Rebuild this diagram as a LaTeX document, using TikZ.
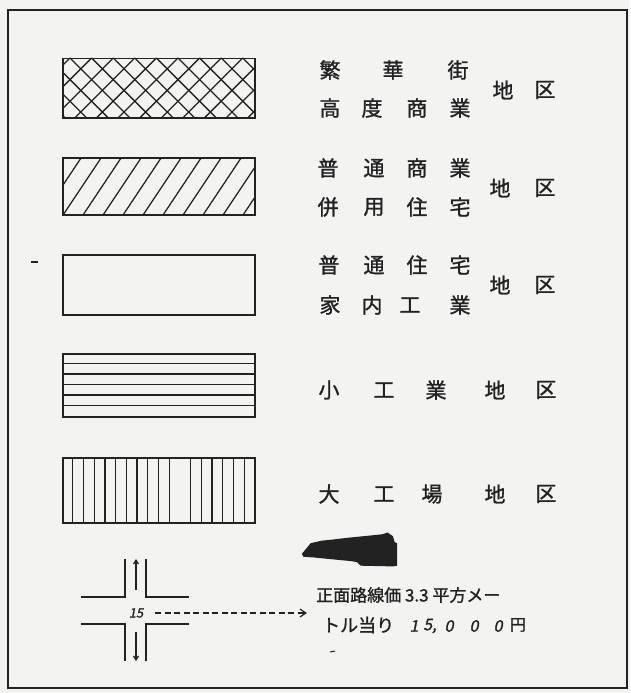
\documentclass[tikz,border=0pt]{standalone}
\usepackage{fontspec}
\newfontfamily\jp[FakeBold=1.2]{Noto Sans CJK JP}
\newfontfamily\jpsl[FakeSlant=0.2,FakeBold=1.2]{Noto Sans CJK JP}
\usetikzlibrary{arrows.meta}
\definecolor{ink}{HTML}{222222}
\definecolor{paper}{HTML}{F3F3F1}
\begin{document}
\begin{tikzpicture}[x=1pt,y=-1pt,
  jp/.style={font=\jp\fontsize{21}{21}\selectfont, text=ink, inner sep=0pt},
  jpsmall/.style={font=\jp\fontsize{17}{17}\selectfont, text=ink, inner sep=0pt, anchor=west},
  digit/.style={font=\jpsl\fontsize{16}{16}\selectfont, text=ink, inner sep=0pt},
  legendbox/.style={draw=ink, line width=1.5pt, minimum width=192pt, inner sep=0pt, anchor=north west},
  hatch/.style={draw=ink, line width=1.3pt},
  road/.style={draw=ink, line width=1.3pt},
  framebox/.style={draw=ink, line width=2pt},
  dasharrow/.style={draw=ink, line width=1.2pt, dash pattern=on 6pt off 3.5pt, -{Straight Barb[length=6pt,width=8pt]}},
  roadarrow/.style={draw=ink, line width=1.2pt, -{Straight Barb[length=4pt,width=5pt]}}]
\useasboundingbox (0,0) rectangle (630,693);
\fill[paper] (0,0) rectangle (630,693);
\draw[framebox] (8,10) rectangle (627,688);

% legend boxes
\node[legendbox, minimum height=59pt] (r1) at (62,58) {};
\node[legendbox, minimum height=57pt] (r2) at (62,157) {};
\node[legendbox, minimum height=60pt] (r3) at (62,254) {};
\node[legendbox, minimum height=63pt] (r4) at (62,353) {};
\node[legendbox, minimum height=65pt] (r5) at (62,457) {};

% cross hatching
\begin{scope}
  \clip (r1.south west) rectangle (r1.north east);
  \foreach \k in {-4,...,12} {
    \draw[hatch] (70+21.6*\k,58) -- ++(80,80);
    \draw[hatch] (70+21.6*\k,58) -- ++(-80,80);
  }
\end{scope}
% diagonal hatching
\begin{scope}
  \clip (r2.south west) rectangle (r2.north east);
  \foreach \k in {-1,...,11} {
    \draw[hatch] (81.7+20*\k+10,157-15) -- ++(-60,90);
  }
\end{scope}
% horizontal lines
\foreach \yy in {363.5,374,384.5,395,405.5}
  \draw[hatch] (62,\yy) -- (254,\yy);
% vertical lines
\foreach \k in {1,...,10,12,13,14,15,16,17}
  \draw[hatch] (62+10.72*\k,457) -- ++(0,65);

% labels row 1
\foreach \xx/\c [count=\i] in {330/繁,393/華,458/街}
  \node[jp] (a\i) at (\xx,70) {\c};
\foreach \xx/\c [count=\i] in {330/高,372/度,417/商,460/業}
  \node[jp] (b\i) at (\xx,108) {\c};
\node[jp] (c1) at (503,90) {地};
\node[jp] (c2) at (545,90) {区};
% row 2
\foreach \xx/\c [count=\i] in {328/普,374/通,417/商,460/業}
  \node[jp] (d\i) at (\xx,168) {\c};
\foreach \xx/\c [count=\i] in {328/併,374/用,417/住,460/宅}
  \node[jp] (e\i) at (\xx,207) {\c};
\node[jp] (f1) at (500,188) {地};
\node[jp] (f2) at (545,188) {区};
% row 3
\foreach \xx/\c [count=\i] in {329/普,374/通,417/住,460/宅}
  \node[jp] (g\i) at (\xx,265) {\c};
\foreach \xx/\c [count=\i] in {330/家,372/内,410/工,460/業}
  \node[jp] (h\i) at (\xx,305) {\c};
\node[jp] (k1) at (500,285) {地};
\node[jp] (k2) at (545,285) {区};
% row 4
\foreach \xx/\c [count=\i] in {329/小,384/工,436/業,495/地,546/区}
  \node[jp] (m\i) at (\xx,390) {\c};
% row 5
\foreach \xx/\c [count=\i] in {329/大,384/工,432/場,495/地,546/区}
  \node[jp] (n\i) at (\xx,494) {\c};

% ink blot
\fill[ink] (301.8,553.9) -- (310.7,543.2) -- (321.4,540.7) -- (332.1,539.6)
  -- (346.4,537.9) -- (364.3,536.1) -- (382.1,534.3) -- (387.5,532.5)
  -- (392.9,536.1) -- (394.6,542.1) -- (397.1,543.2) -- (397.1,565.7)
  -- (392.9,566.4) -- (360.7,565.7) -- (357.1,562.1) -- (350,561)
  -- (332.1,559.3) -- (314.3,557.5) -- (303.6,556.8) -- cycle;

% crossroads
\draw[road] (125,559) -- (125,597) -- (81,597);
\draw[road] (146,559) -- (146,597) -- (189,597);
\draw[road] (81,624) -- (125,624) -- (125,661);
\draw[road] (189,624) -- (146,624) -- (146,661);
\coordinate (upA) at (136,590);
\coordinate (upB) at (136,559);
\coordinate (dnA) at (136,632);
\coordinate (dnB) at (136,661);
\draw[roadarrow] (upA) -- (upB);
\draw[roadarrow] (dnA) -- (dnB);
\node[font=\jpsl\fontsize{13}{13}\selectfont, text=ink, inner sep=0pt] (w15) at (136,613) {15};

% price text
\node[jpsmall] (t1) at (316,595) {正面路線価 3.3 平方メー};
\node[jpsmall, font=\jp\fontsize{18}{18}\selectfont] (t2) at (322,625) {トル当り};
\foreach \xx/\c [count=\i] in {414/1,430/{5,},449/0,474/0,498/0}
  \node[digit] (p\i) at (\xx,626) {\c};
\node[jp, font=\jp\fontsize{16}{16}\selectfont] (yen) at (518,625) {円};
\coordinate (arrEnd) at (307,613);
\draw[dasharrow, shorten <=12pt] (w15.east) -- (arrEnd);

% specks
\draw[ink, line width=1pt] (330,652) -- (335,651);
\draw[ink, line width=1.2pt] (31,262) -- (38,262);
\end{tikzpicture}
\end{document}
